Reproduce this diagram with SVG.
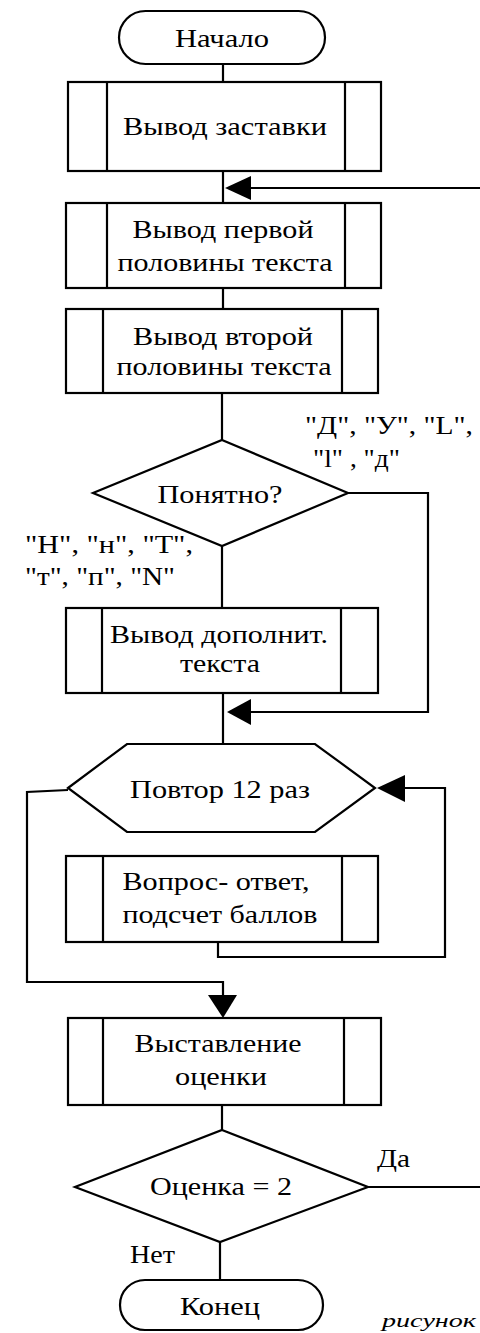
<svg xmlns="http://www.w3.org/2000/svg" width="480" height="1333" viewBox="0 0 480 1333">
<style>
.s{fill:#fff;stroke:#000;stroke-width:2.2}
.l{fill:none;stroke:#000;stroke-width:2.2}
.a{fill:#000;stroke:none}
text{font-size:26px;fill:#000}
.c{text-anchor:middle}
</style>
<rect width="480" height="1333" fill="#fff"/>
<g id="connectors">
<path class="l" d="M223 64V82M223 171V203M480 188H248M223 288V309M222 393V440M222 546V608M348 493H428V712H248M223 693V744M405 788H445V957H218V942M68 790L27 792V982H223V998M222 1105V1130M368 1187H480M220 1242V1280"/>
<polygon class="a" points="225,188 251,176 251,200"/>
<polygon class="a" points="227,712 251,699 251,725"/>
<polygon class="a" points="377,788 405,775 405,802"/>
<polygon class="a" points="223,1018 208,995 237,995"/>
</g>
<g font-family="'Liberation Serif', 'DejaVu Serif', 'Times New Roman', serif">
<g id="start"><rect class="s" x="119" y="11" width="206" height="53" rx="26.5"/><text class="c" x="222" y="47" textLength="94" lengthAdjust="spacingAndGlyphs">Начало</text></g>
<g id="box1"><rect class="s" x="68" y="82" width="313" height="89"/><path class="l" d="M107 82V171M345 82V171"/><text class="c" x="225" y="135" textLength="204" lengthAdjust="spacingAndGlyphs">Вывод заставки</text></g>
<g id="box2"><rect class="s" x="66" y="203" width="315" height="85"/><path class="l" d="M107 203V288M345 203V288"/><text class="c" x="223" y="238" textLength="181" lengthAdjust="spacingAndGlyphs">Вывод первой</text><text class="c" x="225" y="271" textLength="215" lengthAdjust="spacingAndGlyphs">половины текста</text></g>
<g id="box3"><rect class="s" x="66" y="309" width="312" height="84"/><path class="l" d="M103 309V393M342 309V393"/><text class="c" x="223" y="345" textLength="180" lengthAdjust="spacingAndGlyphs">Вывод второй</text><text class="c" x="224" y="375" textLength="215" lengthAdjust="spacingAndGlyphs">половины текста</text></g>
<g id="decision1"><polygon class="s" points="222,440 348,493 222,546 93,493"/><text class="c" x="220" y="503" textLength="125" lengthAdjust="spacingAndGlyphs">Понятно?</text></g>
<g id="labels1">
<text x="305" y="434" textLength="168" lengthAdjust="spacingAndGlyphs">"Д", "У", "L",</text>
<text x="313" y="467" textLength="87" lengthAdjust="spacingAndGlyphs">"l" , "д"</text>
<text x="25" y="553" textLength="168" lengthAdjust="spacingAndGlyphs">"Н", "н", "Т",</text>
<text x="25" y="585" textLength="150" lengthAdjust="spacingAndGlyphs">"т", "п", "N"</text>
</g>
<g id="box4"><rect class="s" x="66" y="608" width="312" height="85"/><path class="l" d="M102 608V693M341 608V693"/><text class="c" x="219" y="643" textLength="218" lengthAdjust="spacingAndGlyphs">Вывод дополнит.</text><text class="c" x="220" y="672" textLength="80" lengthAdjust="spacingAndGlyphs">текста</text></g>
<g id="loop"><polygon class="s" points="68,788 127,744 315,744 375,788 315,832 127,832"/><text class="c" x="220" y="798" textLength="180" lengthAdjust="spacingAndGlyphs">Повтор 12 раз</text></g>
<g id="box5"><rect class="s" x="66" y="856" width="312" height="86"/><path class="l" d="M103 856V942M342 856V942"/><text class="c" x="216" y="890" textLength="187" lengthAdjust="spacingAndGlyphs">Вопрос- ответ,</text><text class="c" x="220" y="923" textLength="195" lengthAdjust="spacingAndGlyphs">подсчет баллов</text></g>
<g id="box6"><rect class="s" x="68" y="1018" width="313" height="87"/><path class="l" d="M103 1018V1105M344 1018V1105"/><text class="c" x="218" y="1052" textLength="167" lengthAdjust="spacingAndGlyphs">Выставление</text><text class="c" x="221" y="1085" textLength="92" lengthAdjust="spacingAndGlyphs">оценки</text></g>
<g id="decision2"><polygon class="s" points="222,1130 368,1187 220,1242 75,1187"/><text class="c" x="221" y="1195" textLength="142" lengthAdjust="spacingAndGlyphs">Оценка = 2</text>
<text x="377" y="1167" textLength="33" lengthAdjust="spacingAndGlyphs">Да</text>
<text x="130" y="1263" textLength="45" lengthAdjust="spacingAndGlyphs">Нет</text></g>
<g id="end"><rect class="s" x="120" y="1280" width="203" height="50" rx="25"/><text class="c" x="220" y="1315" textLength="80" lengthAdjust="spacingAndGlyphs">Конец</text></g>
<text x="382" y="1327" style="font-style:italic;font-size:18px" textLength="94" lengthAdjust="spacingAndGlyphs">рисунок</text>
</g>
</svg>
